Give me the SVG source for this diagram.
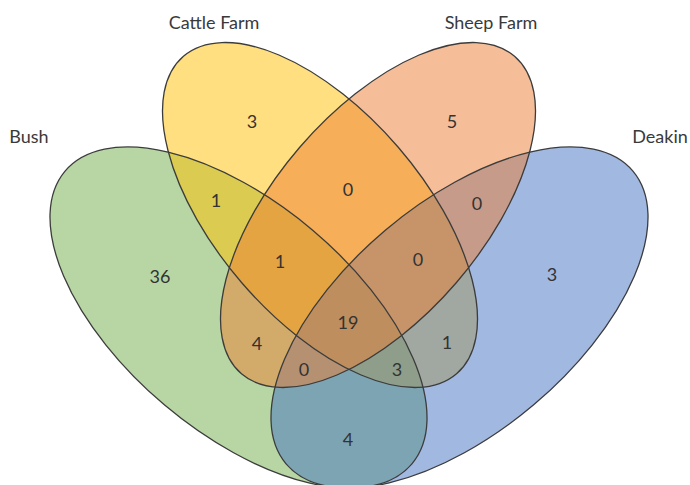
<svg xmlns="http://www.w3.org/2000/svg" xmlns:xlink="http://www.w3.org/1999/xlink" width="690" height="485" viewBox="0 0 690 485">
<style>
.fill{stroke:none;fill-opacity:0.5}
.outline{fill:none;stroke:#3c3c3c;stroke-width:1.3}
.lbl{font-family:Lato,"Open Sans","Liberation Sans",sans-serif;font-size:18px;fill:#3a3a3a;text-anchor:middle}
.num{font-family:Lato,"Open Sans","Liberation Sans",sans-serif;font-size:18px;fill:#333333;text-anchor:middle}
</style>
<defs>
<ellipse id="eBush" cx="238.5" cy="317.5" rx="226.9" ry="114.6" transform="rotate(40.15 238.5 317.5)"/>
<ellipse id="eCattle" cx="320" cy="215" rx="209.4" ry="103.5" transform="rotate(49.3 320 215)"/>
<ellipse id="eSheep" cx="378" cy="215" rx="209.4" ry="103.5" transform="rotate(-49.3 378 215)"/>
<ellipse id="eDeakin" cx="459.5" cy="317.5" rx="226.9" ry="114.6" transform="rotate(-40.15 459.5 317.5)"/>
</defs>
<rect width="690" height="485" fill="#ffffff"/>
<g id="bush">
<use xlink:href="#eBush" class="fill" fill="#70ad47"/>
<text class="lbl" x="29" y="143">Bush</text>
</g>
<g id="cattle-farm">
<use xlink:href="#eCattle" class="fill" fill="#ffc000"/>
<text class="lbl" x="214" y="29">Cattle Farm</text>
</g>
<g id="deakin">
<use xlink:href="#eDeakin" class="fill" fill="#4472c4"/>
<text class="lbl" x="660" y="143">Deakin</text>
</g>
<g id="sheep-farm">
<use xlink:href="#eSheep" class="fill" fill="#ed7d31"/>
<text class="lbl" x="491" y="29">Sheep Farm</text>
</g>
<g id="outlines">
<use xlink:href="#eBush" class="outline"/>
<use xlink:href="#eCattle" class="outline"/>
<use xlink:href="#eSheep" class="outline"/>
<use xlink:href="#eDeakin" class="outline"/>
</g>
<g id="counts">
<text class="num" x="252" y="128">3</text>
<text class="num" x="452" y="128">5</text>
<text class="num" x="216" y="207">1</text>
<text class="num" x="348" y="196">0</text>
<text class="num" x="477" y="210">0</text>
<text class="num" x="160" y="283">36</text>
<text class="num" x="280" y="268">1</text>
<text class="num" x="418" y="266">0</text>
<text class="num" x="552" y="281">3</text>
<text class="num" x="348" y="329">19</text>
<text class="num" x="257" y="350">4</text>
<text class="num" x="447" y="349">1</text>
<text class="num" x="304" y="376">0</text>
<text class="num" x="397" y="376">3</text>
<text class="num" x="348" y="446">4</text>
</g>
</svg>
